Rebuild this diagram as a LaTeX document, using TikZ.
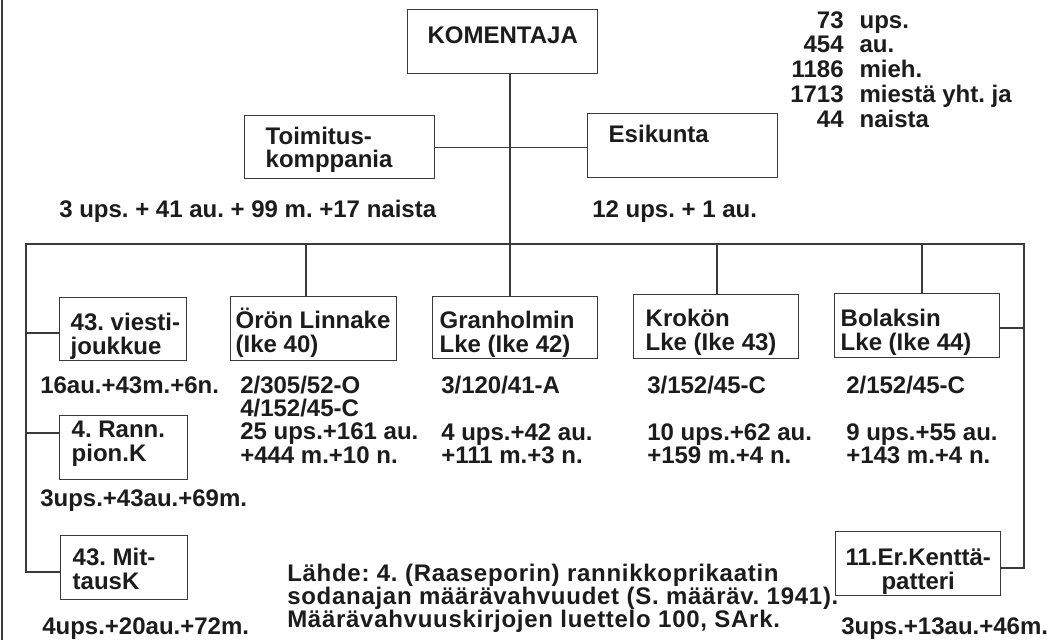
\documentclass[tikz,border=0pt]{standalone}
\usepackage{fontspec}
\setmainfont{Liberation Sans}
\newfontfamily\srcfont{Liberation Sans}[LetterSpace=3]
\frenchspacing
\newlength{\px}\setlength{\px}{0.75pt}
\definecolor{txt}{HTML}{1C1C1C}
\definecolor{linec}{HTML}{3A3A3A}
\newcommand{\fs}{\fontsize{18}{17.6}\selectfont\bfseries\frenchspacing}
% box text: width, height, top space, alignment code, text
\newcommand{\bt}[5]{\parbox[c][#2\px][t]{#1\px}{\fs\parindent=0pt #4\vspace*{#3\px}\rule{0pt}{24\px}#5\par}}
\newcommand{\lft}[1]{\raggedright\leftskip=#1\px\relax}
% stacked label, first baseline at reference point
\newcommand{\stk}[2]{\parbox[t]{#1\px}{\fs\raggedright #2}}
\tikzset{
  box/.style={draw=linec, line width=1.1pt, inner sep=0pt, anchor=north west, text=txt},
  lbl/.style={inner sep=0pt, anchor=base west, text=txt, font=\fs},
  conn/.style={draw=linec, line width=0.9pt},
}
\begin{document}
\begin{tikzpicture}[x=0.75pt,y=-0.75pt]
\useasboundingbox (0,0) rectangle (1049,640);
\fill[white] (0,0) rectangle (1049,640);
\draw[linec, line width=1pt] (2,0) -- (2,640);

% boxes
\node[box] (kom)    at (407,9)   {\bt{190}{64}{10}{\centering}{KOMENTAJA}};
\node[box] (toim)   at (244,115) {\bt{190}{63}{4.5}{\lft{21}}{Toimitus-\\komppania}};
\node[box] (esi)    at (587,113) {\bt{190}{64}{4.7}{\lft{21}}{Esikunta}};
\node[box] (viesti) at (59,297)  {\bt{127}{63}{9}{\lft{11}}{43. viesti-\\joukkue}};
\node[box] (oron)   at (230,296) {\bt{166}{64}{8}{\lft{5}}{Örön Linnake\\(Ike 40)}};
\node[box] (gran)   at (432,296) {\bt{165}{62}{8}{\lft{7}}{Granholmin\\Lke (Ike 42)}};
\node[box] (krok)   at (633,294) {\bt{165}{64}{8}{\lft{12}}{Krokön\\Lke (Ike 43)}};
\node[box] (bol)    at (834,293) {\bt{165}{64}{9}{\lft{6}}{Bolaksin\\Lke (Ike 44)}};
\node[box] (rann)   at (59,415)  {\bt{128}{64}{-2}{\lft{12}}{4. Rann.\\pion.K}};
\node[box] (mit)    at (60,535)  {\bt{127}{64}{6}{\lft{12}}{43. Mit-\\tausK}};
\node[box] (er)     at (835,531) {\bt{165}{64}{10}{\centering}{11.Er.Kenttä-\\patteri}};

% connectors
\coordinate (trunk) at (510,0);
\draw[conn] (kom.south -| trunk) -- (gran.north -| trunk);
\draw[conn] (toim.east) -- (toim.east -| esi.west);
\coordinate (busL) at (26,244);
\coordinate (busR) at (1024,244);
\coordinate (lEnd) at (26,572);
\coordinate (rEnd) at (1024,568);
\draw[conn] (lEnd -| mit.west) -- (lEnd) -- (busL) -- (busR) -- (rEnd) -- (rEnd -| er.east);
\coordinate (vj) at (26,333);
\draw[conn] (vj) -- (vj -| viesti.west);
\coordinate (rj) at (26,433);
\draw[conn] (rj) -- (rj -| rann.west);
\coordinate (oj) at (306,244);
\draw[conn] (oj) -- (oj |- oron.north);
\coordinate (kj) at (717,244);
\draw[conn] (kj) -- (kj |- krok.north);
\coordinate (bj) at (922,244);
\draw[conn] (bj) -- (bj |- bol.north);
\coordinate (bc) at (1024,328);
\draw[conn] (bc) -- (bc -| bol.east);

% labels
\node[inner sep=0pt, anchor=north west, text=txt, font=\fs] (stats) at (790,10.7)
  {\renewcommand{\arraystretch}{1.05}\begin{tabular}{@{}r@{\hspace{16\px}}l@{}}
   73 & ups.\\ 454 & au.\\ 1186 & mieh.\\ 1713 & miestä yht. ja\\ 44 & naista\end{tabular}};
\node[lbl] (toimS) at (59,217)  {3 ups. + 41 au. + 99 m. +17 naista};
\node[lbl] (esiS)  at (592,217) {12 ups. + 1 au.};
\node[lbl] (viestiS) at (40,393) {16au.+43m.+6n.};
\node[lbl] (oronS) at (240,393) {\stk{185}{2/305/52-O\\4/152/45-C\\25 ups.+161 au.\\+444 m.+10 n.}};
\node[lbl] (granA) at (441,393) {3/120/41-A};
\node[lbl] (granS) at (441,440) {\stk{160}{4 ups.+42 au.\\+111 m.+3 n.}};
\node[lbl] (krokA) at (647,393) {3/152/45-C};
\node[lbl] (krokS) at (647,440) {\stk{172}{10 ups.+62 au.\\+159 m.+4 n.}};
\node[lbl] (bolA)  at (846,393) {2/152/45-C};
\node[lbl] (bolS)  at (846,440) {\stk{160}{9 ups.+55 au.\\+143 m.+4 n.}};
\node[lbl] (rannS) at (40,506) {3ups.+43au.+69m.};
\node[lbl] (mitS)  at (42,634) {4ups.+20au.+72m.};
\node[lbl] (erS)   at (841,634) {3ups.+13au.+46m.};
\node[lbl] (src)   at (287,581) {\stk{620}{\srcfont\bfseries Lähde: 4. (Raaseporin) rannikkoprikaatin\\sodanajan määrävahvuudet (S. määräv. 1941).\\Määrävahvuuskirjojen luettelo 100, SArk.}};
\end{tikzpicture}
\end{document}
